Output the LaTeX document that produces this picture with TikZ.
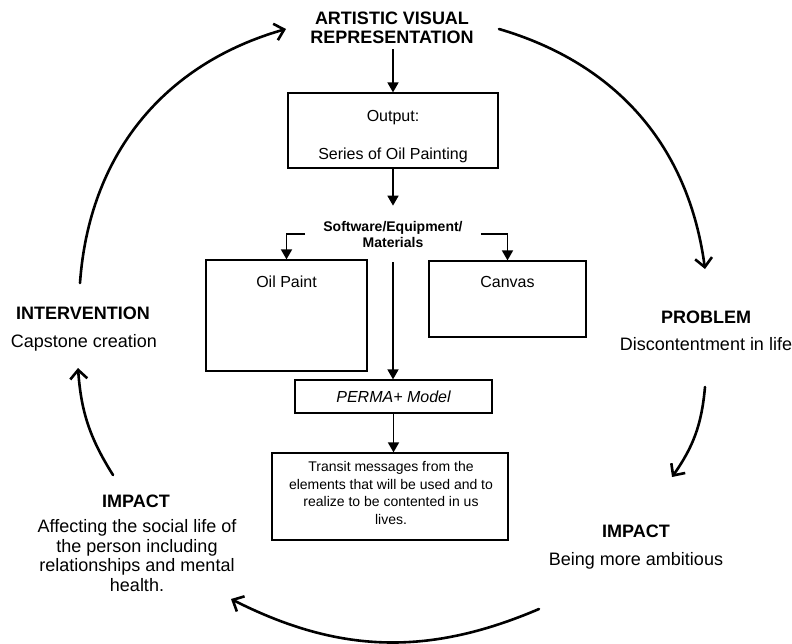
\documentclass[tikz,border=0pt]{standalone}
\usepackage{fontspec}
\setmainfont{Liberation Sans}
\usetikzlibrary{arrows.meta}
\tikzset{
  box/.style={draw, line width=1.2pt, inner sep=0pt},
  link/.style={line width=1.6pt, -{Triangle[length=10pt,width=11pt]}},
  cyc/.style={line width=2.6pt, line cap=round, -{Straight Barb[length=9pt,width=17pt]}},
  head/.style={font=\fontsize{18}{19.5}\selectfont\bfseries, inner sep=0pt, anchor=base},
  body/.style={font=\fontsize{18}{19.5}\selectfont, inner sep=0pt, align=center},
  midtxt/.style={font=\fontsize{16}{19}\selectfont, inner sep=0pt},
}
\begin{document}
\begin{tikzpicture}[x=1pt,y=1pt]
\useasboundingbox (0,0) rectangle (792,-643);
% title
\node[inner sep=0pt, align=center, font=\fontsize{18}{19}\selectfont\bfseries] (title) at (392,-28) {ARTISTIC VISUAL\\REPRESENTATION};
% output box
\node[box, minimum width=210pt, minimum height=75pt] (out) at (393,-130.5) {};
\node[midtxt, align=center] (outtxt) at (393,-137) {Output:\\[19pt]Series of Oil Painting};
\draw[link] ([yshift=-5pt]title.south -| out.north) -- (out.north);
% software
\node[font=\fontsize{14}{16}\selectfont\bfseries, align=center, inner xsep=18pt, inner ysep=15pt] (sw) at (393,-234) {Software/Equipment/\\Materials};
\draw[link] (out.south) -- (out.south |- sw.north);
% oil paint and canvas
\node[box, minimum width=161pt, minimum height=111pt] (oil) at (286.5,-315.5) {};
\node[midtxt, anchor=base] (oiltxt) at (286.5,-287) {Oil Paint};
\node[box, minimum width=157pt, minimum height=76pt] (canv) at (507.5,-299) {};
\node[midtxt, anchor=base] (canvtxt) at (507.5,-287) {Canvas};
\draw[link] (sw.west) -| (oil.north);
\draw[link] (sw.east) -| (canv.north);
% PERMA
\node[box, minimum width=197pt, minimum height=33pt, font=\fontsize{16}{19}\selectfont\itshape] (perma) at (393.5,-396.5) {PERMA+ Model};
\draw[link] (sw.south) -- (sw.south |- perma.north);
% message box
\node[box, minimum width=236pt, minimum height=87pt] (msg) at (390,-496.5) {};
\node[font=\fontsize{14}{17.5}\selectfont, align=center, inner sep=0pt] (msgtxt) at (391,-493) {Transit messages from the\\elements that will be used and to\\realize to be contented in us\\lives.};
\draw[link] (perma.south) -- (perma.south |- msg.north);
% labels
\node[head] (ivh) at (83,-319) {INTERVENTION};
\node[body, anchor=base] (ivb) at (84,-347) {Capstone creation};
\node[head] (prh) at (706,-323) {PROBLEM};
\node[body, anchor=base] (prb) at (706,-350) {Discontentment in life};
\node[head] (irh) at (636,-537) {IMPACT};
\node[body, anchor=base] (irb) at (636,-565) {Being more ambitious};
\node[head] (ilh) at (136,-507) {IMPACT};
\node[body] (ilb) at (137,-555.5) {Affecting the social life of\\the person including\\relationships and mental\\health.};
% cycle arcs
\coordinate (a1s) at (80,-283);  \coordinate (a1e) at (286,-29);
\coordinate (a2s) at (499,-29);  \coordinate (a2e) at (705,-269);
\coordinate (a3s) at (705,-387); \coordinate (a3e) at (672,-477);
\coordinate (a4s) at (539,-609); \coordinate (a4e) at (231,-599);
\coordinate (a5s) at (113,-475); \coordinate (a5e) at (78,-368);
\draw[cyc] (a1s) to[bend left=35] (a1e);
\draw[cyc] (a2s) to[bend left=33] (a2e);
\draw[cyc] (a3s) to[bend left=15] (a3e);
\draw[cyc] (a4s) to[bend left=25] (a4e);
\draw[cyc] (a5s) to[bend left=14] (a5e);
\end{tikzpicture}
\end{document}
